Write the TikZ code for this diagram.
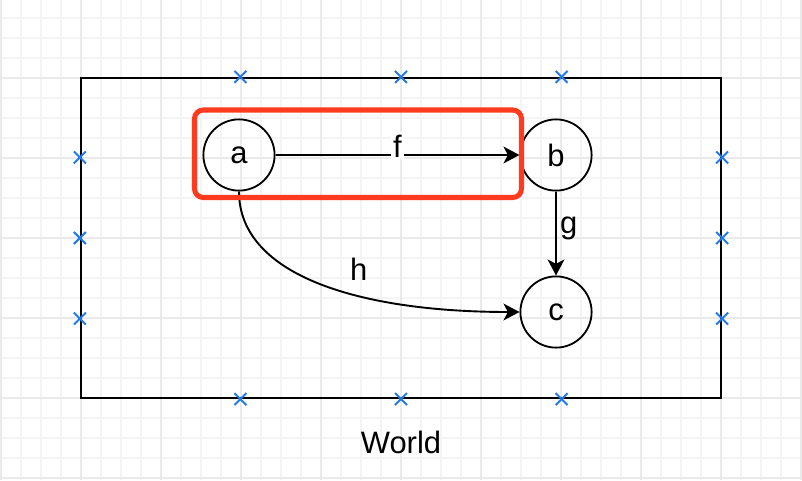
\documentclass[tikz,border=0pt]{standalone}
\usepackage{fontspec}
\setmainfont{Liberation Sans}
\usepackage{tikz}
\usetikzlibrary{calc, positioning, arrows.meta, shapes.misc}
\definecolor{hlRed}{RGB}{255, 59, 31}
\definecolor{markBlue}{RGB}{33, 122, 230}
\definecolor{gridMinor}{RGB}{244, 244, 244}
\definecolor{gridMajor}{RGB}{234, 234, 234}

\begin{document}
\begin{tikzpicture}[x=0.025cm, y=-0.025cm, >={Stealth[length=0.4cm, width=0.42cm, inset=0.11cm]},
    font=\fontsize{22}{26}\selectfont,
    vertex/.style={circle, draw, line width=1.3pt, minimum size=1.78cm, inner sep=0pt},
    edge/.style={->, line width=1.35pt},
    lbl/.style={inner sep=0.1cm},
    xmarker/.style={cross out, draw=markBlue, line width=1.4pt, minimum size=0.25cm, inner sep=0pt},
    highlight/.style={draw=hlRed, line width=3.6pt, rounded corners=0.22cm}]
  \useasboundingbox (0,0) rectangle (802,480);
  % background grid
  \foreach \gx in {1,21,...,801} \draw[gridMinor, line width=0.8pt] (\gx,0) -- (\gx,480);
  \foreach \gy in {18,38,...,478} \draw[gridMinor, line width=0.8pt] (0,\gy) -- (802,\gy);
  \foreach \gx in {1,81,...,801} \draw[gridMajor, line width=0.8pt] (\gx,0) -- (\gx,480);
  \foreach \gy in {78,158,...,478} \draw[gridMajor, line width=0.8pt] (0,\gy) -- (802,\gy);

  % world frame
  \node[draw, line width=1.5pt, minimum width=16cm, minimum height=8cm, inner sep=0pt] (frame) at (401,238) {};
  \node[lbl, below=0.7cm of frame] (world) {World};
  \foreach \p [count=\i] in {0.25,0.5,0.75} {
    \node[xmarker] (mt\i) at ($(frame.north west)!\p!(frame.north east)$) {};
    \node[xmarker] (mb\i) at ($(frame.south west)!\p!(frame.south east)$) {};
    \node[xmarker] (ml\i) at ($(frame.north west)!\p!(frame.south west)$) {};
    \node[xmarker] (mr\i) at ($(frame.north east)!\p!(frame.south east)$) {};
  }

  % objects and arrows
  \node[vertex] (a) at (239,155) {a};
  \node[vertex] (b) at (556,155) {b};
  \node[vertex] (c) at (556,312) {c};
  \draw[edge] (a) -- node[lbl, fill=white, anchor=base, yshift=-0.05cm, inner sep=0.06cm] {f} (b);
  \draw[edge] (b) -- node[lbl, anchor=base west, inner sep=0.08cm] {g} (c);
  \draw[edge] (a.south) .. controls +(0,84) and +(-160,0) .. node[lbl, pos=0.62, anchor=base, yshift=0.38cm] {h} (c.west);

  % highlighted arrow
  \draw[highlight] (194.5,110) rectangle (521.5,197.5);
\end{tikzpicture}
\end{document}
